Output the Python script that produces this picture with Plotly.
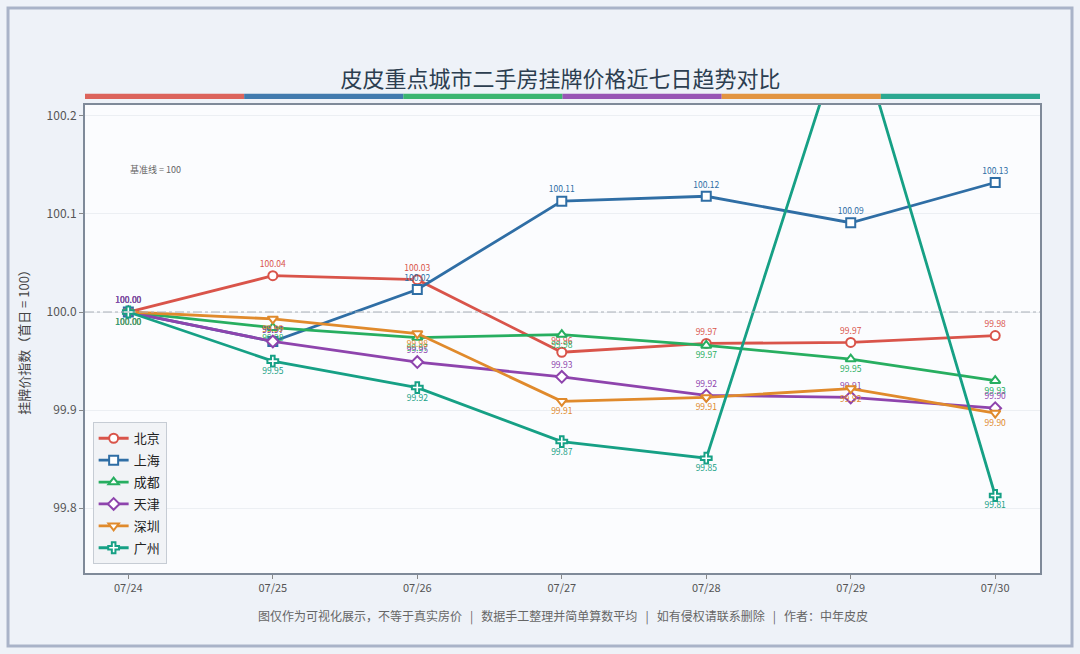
import plotly.graph_objects as go

dates = ["07/24", "07/25", "07/26", "07/27", "07/28", "07/29", "07/30"]
cities = ["北京", "上海", "成都", "天津", "深圳", "广州"]

beijing = [100.00, 100.037, 100.033, 99.959, 99.968, 99.969, 99.976]
shanghai = [100.00, 99.970, 100.023, 100.113, 100.118, 100.091, 100.132]
chengdu = [100.00, 99.984, 99.974, 99.977, 99.966, 99.952, 99.930]
tianjin = [100.00, 99.970, 99.949, 99.934, 99.915, 99.913, 99.902]
shenzhen = [100.00, 99.993, 99.978, 99.909, 99.913, 99.922, 99.897]
guangzhou = [100.00, 99.950, 99.923, 99.868, 99.851, 100.31, 99.813]

series = [beijing, shanghai, chengdu, tianjin, shenzhen, guangzhou]
colors = ["#d9544a", "#2f6ea5", "#27ae60", "#8e44ad", "#e08a2c", "#16a085"]
symbols = ["circle", "square", "triangle-up", "diamond", "triangle-down", "cross"]
label_pos = ["top center", "top center", "bottom center", "top center", "bottom center", "bottom center"]

fig = go.Figure()

for name, vals, c, sym, pos in zip(cities, series, colors, symbols, label_pos):
    fig.add_trace(go.Scatter(
        x=list(range(len(dates))), y=vals, name=name, legendgroup=name,
        mode="lines+markers+text",
        line=dict(color=c, width=2.8),
        marker=dict(symbol=sym, size=9, color="white", line=dict(color=c, width=2)),
        text=["%.2f" % v for v in vals], textposition=pos,
        textfont=dict(size=8.5, color=c),
        cliponaxis=True,
    ))

# 基准线
fig.add_hline(y=100, line=dict(color="#aab0b8", width=1.2, dash="dashdot"))

# colour strip under the title
n = len(colors)
for i, c in enumerate(colors):
    fig.add_shape(type="rect", xref="paper", yref="paper",
                  x0=i / n, x1=(i + 1) / n, y0=1.013, y1=1.024,
                  fillcolor=c, line=dict(width=0), opacity=0.9)

# outer frame
fig.add_shape(type="rect", xref="paper", yref="paper",
              x0=-0.0806, x1=1.0335, y0=-0.156, y1=1.207,
              line=dict(color="#a9b3c8", width=3), fillcolor="rgba(0,0,0,0)", layer="below")

fig.add_annotation(text="基准线 = 100", xref="paper", yref="paper", x=0.045, y=0.88,
                   xanchor="left", showarrow=False, font=dict(size=9, color="#666"))

fig.add_annotation(
    text="图仅作为可视化展示，不等于真实房价   |   数据手工整理并简单算数平均   |   如有侵权请联系删除   |   作者：中年皮皮",
    xref="paper", yref="paper", x=0.5, y=-0.092, yanchor="middle", showarrow=False,
    font=dict(size=12, color="#666"))

fig.update_layout(
    width=1080, height=654,
    margin=dict(l=85, r=40, t=105, b=81),
    paper_bgcolor="#eef2f8",
    plot_bgcolor="#fbfcfe",
    font=dict(family="Noto Sans CJK SC, sans-serif", color="#444"),
    title=dict(text="皮皮重点城市二手房挂牌价格近七日趋势对比", x=0.519, xanchor="center",
               y=0.878, yanchor="middle", font=dict(size=22, color="#2c3e50")),
    legend=dict(x=0.008, y=0.322, xanchor="left", yanchor="top",
                bgcolor="#f1f3f6", bordercolor="#c6ccd4", borderwidth=1,
                font=dict(size=13, color="#222"), tracegroupgap=2),
    showlegend=True,
)

fig.update_xaxes(range=[-0.3, 6.31], tickvals=list(range(len(dates))), ticktext=dates,
                 showgrid=False, zeroline=False, ticks="outside", ticklen=4, tickcolor="#888",
                 showline=True, linecolor="#7f8a99", linewidth=2, mirror=True,
                 tickfont=dict(size=11, color="#555"))
fig.update_yaxes(range=[99.734, 100.211], tickvals=[99.8, 99.9, 100.0, 100.1, 100.2],
                 ticktext=["99.8", "99.9", "100.0", "100.1", "100.2"],
                 showgrid=True, gridcolor="#eceff3", zeroline=False,
                 ticks="outside", ticklen=4, tickcolor="#888",
                 showline=True, linecolor="#7f8a99", linewidth=2, mirror=True,
                 tickfont=dict(size=12, color="#555"),
                 title=dict(text="挂牌价指数（首日 = 100）", font=dict(size=13, color="#444"), standoff=14))

fig.write_html("out.html", config={"displayModeBar": False},
               post_script="document.body.style.margin='0';")
